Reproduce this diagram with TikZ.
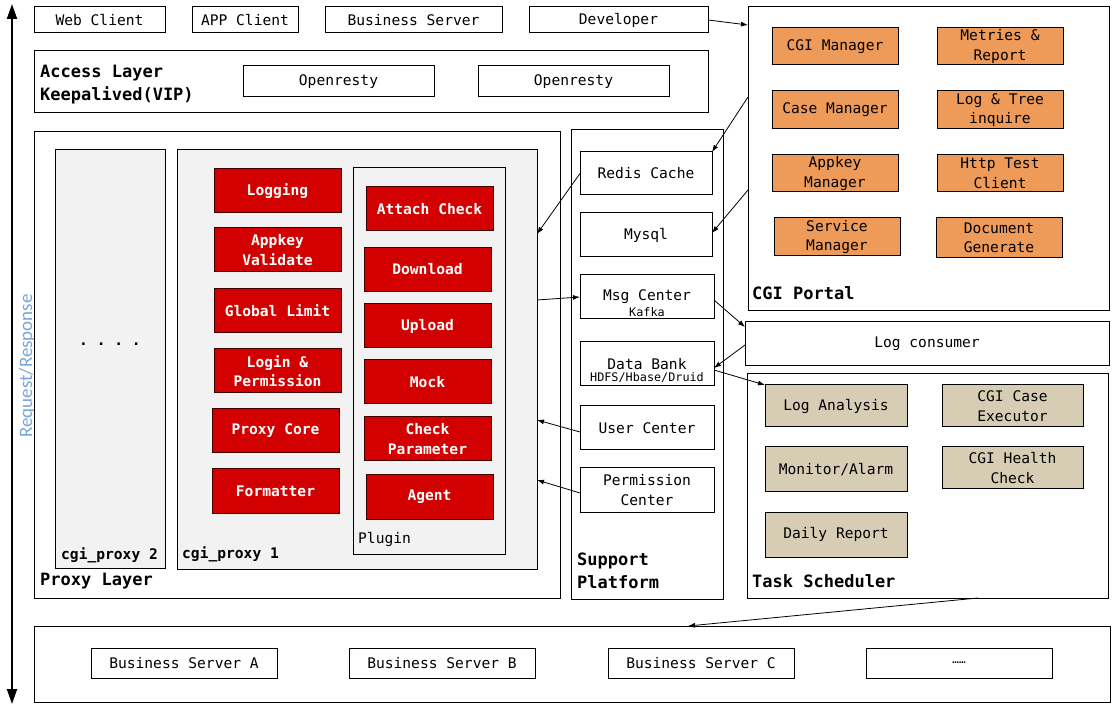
\documentclass[tikz,border=0pt]{standalone}
\usepackage{fontspec}
\setmonofont{DejaVu Sans Mono}
\newfontfamily\rrfont{Carlito}
\usetikzlibrary{arrows.meta,calc}
\definecolor{redc}{RGB}{210,0,0}
\definecolor{orangec}{RGB}{238,155,90}
\definecolor{tanc}{RGB}{214,205,180}
\definecolor{grayc}{RGB}{242,242,242}
\definecolor{bluec}{RGB}{120,165,220}
\begin{document}
\begin{tikzpicture}[x=1pt,y=-1pt,
  font=\ttfamily\fontsize{14.6}{19.5}\selectfont,
  bx/.style={draw, line width=1pt, inner sep=0pt, outer sep=0pt, align=center},
  redbox/.style={bx, fill=redc, draw=black!70!redc, text=white, font=\ttfamily\bfseries\fontsize{14.6}{19.5}\selectfont},
  orangebox/.style={bx, fill=orangec},
  tanbox/.style={bx, fill=tanc},
  graybox/.style={bx, fill=grayc},
  lbl/.style={anchor=west, inner sep=0pt, align=left, font=\ttfamily\bfseries\fontsize{17}{23}\selectfont},
  smalllbl/.style={anchor=west, inner sep=0pt, font=\ttfamily\bfseries\fontsize{14.6}{19.5}\selectfont},
  subtxt/.style={inner sep=0pt, font=\ttfamily\fontsize{11.8}{13}\selectfont},
  arr/.style={-{Latex[length=7pt,width=5pt]}, line width=0.8pt}]
\useasboundingbox (0,0) rectangle (1117,708);

% Request/Response arrow
\coordinate (rtop) at (12,4);
\coordinate (rbot) at (12,704);
\draw[{Triangle[length=15pt,width=10pt]}-{Triangle[length=15pt,width=10pt]}, line width=2pt] (rtop) -- (rbot);
\node[rotate=90, text=bluec, font=\rrfont\fontsize{19}{21}\selectfont] (rr) at (27,366) {Request/Response};

% top row
\node[bx, minimum width=131pt, minimum height=26pt] (web) at (99.5,20) {Web Client};
\node[bx, minimum width=106pt, minimum height=26pt] (app) at (245,20) {APP Client};
\node[bx, minimum width=177pt, minimum height=26pt] (bizs) at (413.5,20) {Business Server};
\node[bx, minimum width=179pt, minimum height=26pt] (dev) at (618.5,20) {Developer};

% access layer
\node[bx, minimum width=674pt, minimum height=62pt] (access) at (371,82) {};
\node[lbl] (accesslbl) at (40,85) {Access Layer\\Keepalived(VIP)};
\node[bx, minimum width=191pt, minimum height=31pt] (or1) at (338.5,81.5) {Openresty};
\node[bx, minimum width=191pt, minimum height=31pt] (or2) at (573.5,81.5) {Openresty};

% proxy layer
\node[bx, minimum width=526pt, minimum height=466pt] (proxy) at (297,365) {};
\node[lbl] (proxylbl) at (40,581) {Proxy Layer};
\node[graybox, minimum width=110pt, minimum height=418pt] (p2) at (110,359) {};
\node[smalllbl] (p2lbl) at (61,555) {cgi\_proxy 2};
\node[font=\ttfamily\bfseries\fontsize{14.6}{19.5}\selectfont] (dots) at (110,344) {. . . .};
\node[graybox, minimum width=360pt, minimum height=419pt] (p1) at (357,359.5) {};
\node[smalllbl] (p1lbl) at (182,554) {cgi\_proxy 1};

\node[redbox, minimum width=127pt, minimum height=44pt] (logging) at (277.5,191) {Logging};
\node[redbox, minimum width=127pt, minimum height=44pt] (appkey) at (277.5,250) {Appkey\\Validate};
\node[redbox, minimum width=127pt, minimum height=44pt] (glimit) at (277.5,310.5) {Global Limit};
\node[redbox, minimum width=127pt, minimum height=44pt] (login) at (277.5,371) {Login \&\\Permission};
\node[redbox, minimum width=127pt, minimum height=44pt] (pcore) at (275.5,431) {Proxy Core};
\node[redbox, minimum width=127pt, minimum height=44pt] (fmt) at (275.5,491) {Formatter};

\node[graybox, minimum width=152pt, minimum height=386pt] (plugin) at (429,361) {};
\node[anchor=west, inner sep=0pt] (pluginlbl) at (358,539) {Plugin};
\node[redbox, minimum width=127pt, minimum height=44pt] (attach) at (429.5,209) {Attach Check};
\node[redbox, minimum width=127pt, minimum height=44pt] (download) at (427.5,269.5) {Download};
\node[redbox, minimum width=127pt, minimum height=44pt] (upload) at (427.5,326) {Upload};
\node[redbox, minimum width=127pt, minimum height=44pt] (mock) at (427.5,382) {Mock};
\node[redbox, minimum width=127pt, minimum height=44pt] (checkp) at (427.5,439) {Check\\Parameter};
\node[redbox, minimum width=127pt, minimum height=44pt] (agent) at (429.5,497) {Agent};

% support platform
\node[bx, minimum width=152pt, minimum height=469pt] (support) at (647,364.5) {};
\node[lbl] (supportlbl) at (577,571) {Support\\Platform};
\node[bx, minimum width=132pt, minimum height=43pt] (redis) at (646,173.5) {Redis Cache};
\node[bx, minimum width=132pt, minimum height=44pt] (mysql) at (646,235) {Mysql};
\node[bx, minimum width=134pt, minimum height=44pt, label={[subtxt, yshift=-15pt]center:Kafka}] (msg) at (647,297) {Msg Center};
\node[bx, minimum width=134pt, minimum height=44pt, label={[subtxt, yshift=-14pt]center:HDFS/Hbase/Druid}] (databank) at (647,364) {\raisebox{1pt}{Data Bank}};
\node[bx, minimum width=134pt, minimum height=44pt] (user) at (647,428) {User Center};
\node[bx, minimum width=134pt, minimum height=44pt] (perm) at (647,490) {Permission\\Center};

% CGI portal
\node[bx, minimum width=361pt, minimum height=304pt] (cgi) at (928.5,159) {};
\node[lbl] (cgilbl) at (752,293) {CGI Portal};
\node[orangebox, minimum width=126pt, minimum height=37pt] (cgim) at (835,46.5) {CGI Manager};
\node[orangebox, minimum width=126pt, minimum height=37pt] (metr) at (1000,46.5) {Metries \&\\Report};
\node[orangebox, minimum width=126pt, minimum height=38pt] (casem) at (835,110) {Case Manager};
\node[orangebox, minimum width=126pt, minimum height=38pt] (logt) at (1000,110) {Log \& Tree\\inquire};
\node[orangebox, minimum width=126pt, minimum height=37pt] (appm) at (835,173.5) {Appkey\\Manager};
\node[orangebox, minimum width=126pt, minimum height=37pt] (http) at (1000,173.5) {Http Test\\Client};
\node[orangebox, minimum width=126pt, minimum height=38pt] (servm) at (837,237) {Service\\Manager};
\node[orangebox, minimum width=126pt, minimum height=40pt] (docg) at (999,238) {Document\\Generate};

% log consumer
\node[bx, minimum width=364pt, minimum height=44pt] (logc) at (927,344) {Log consumer};

% task scheduler
\node[bx, minimum width=361pt, minimum height=224pt] (task) at (927.5,486) {};
\node[lbl] (tasklbl) at (752,581) {Task Scheduler};
\node[tanbox, minimum width=142pt, minimum height=42pt] (loga) at (836,406) {Log Analysis};
\node[tanbox, minimum width=141pt, minimum height=42pt] (cgic) at (1012.5,406) {CGI Case\\Executor};
\node[tanbox, minimum width=142pt, minimum height=45pt] (mon) at (836,469.5) {Monitor/Alarm};
\node[tanbox, minimum width=141pt, minimum height=42pt] (health) at (1012.5,468) {CGI Health\\Check};
\node[tanbox, minimum width=142pt, minimum height=45pt] (daily) at (836,534.5) {Daily Report};

% bottom
\node[bx, minimum width=1076pt, minimum height=76pt] (bot) at (572,664) {};
\node[bx, minimum width=186pt, minimum height=30pt] (bA) at (184,663) {Business Server A};
\node[bx, minimum width=186pt, minimum height=30pt] (bB) at (442,663) {Business Server B};
\node[bx, minimum width=186pt, minimum height=30pt] (bC) at (701,663) {Business Server C};
\node[bx, minimum width=186pt, minimum height=30pt] (bD) at (959,663) {{\fontsize{11}{12}\selectfont ……}};

% connectors
\draw[arr] (dev.east) -- ([yshift=-18pt]cgi.north west);
\draw[arr] ([yshift=-90pt]cgi.north west) -- (redis.north east);
\draw[arr] ([yshift=-183pt]cgi.north west) -- ([yshift=2pt]mysql.east);
\draw[arr] (redis.west) -- ([yshift=-84pt]p1.north east);
\draw[arr] ([yshift=-150pt]p1.north east) -- (msg.west);
\draw[arr] ([yshift=-3pt]msg.east) -- ([yshift=-5pt]logc.north west);
\draw[arr] ([yshift=-23pt]logc.north west) -- ([yshift=-4pt]databank.east);
\draw[arr] ([yshift=-6pt]databank.east) -- (loga.north west);
\draw[arr] ([yshift=-4pt]user.west) -- ([yshift=-270pt]p1.north east);
\draw[arr] ([yshift=-3pt]perm.west) -- ([yshift=-330pt]p1.north east);
\draw[arr] ([xshift=231pt]task.south west) -- ([xshift=654pt]bot.north west);
\end{tikzpicture}
\end{document}
